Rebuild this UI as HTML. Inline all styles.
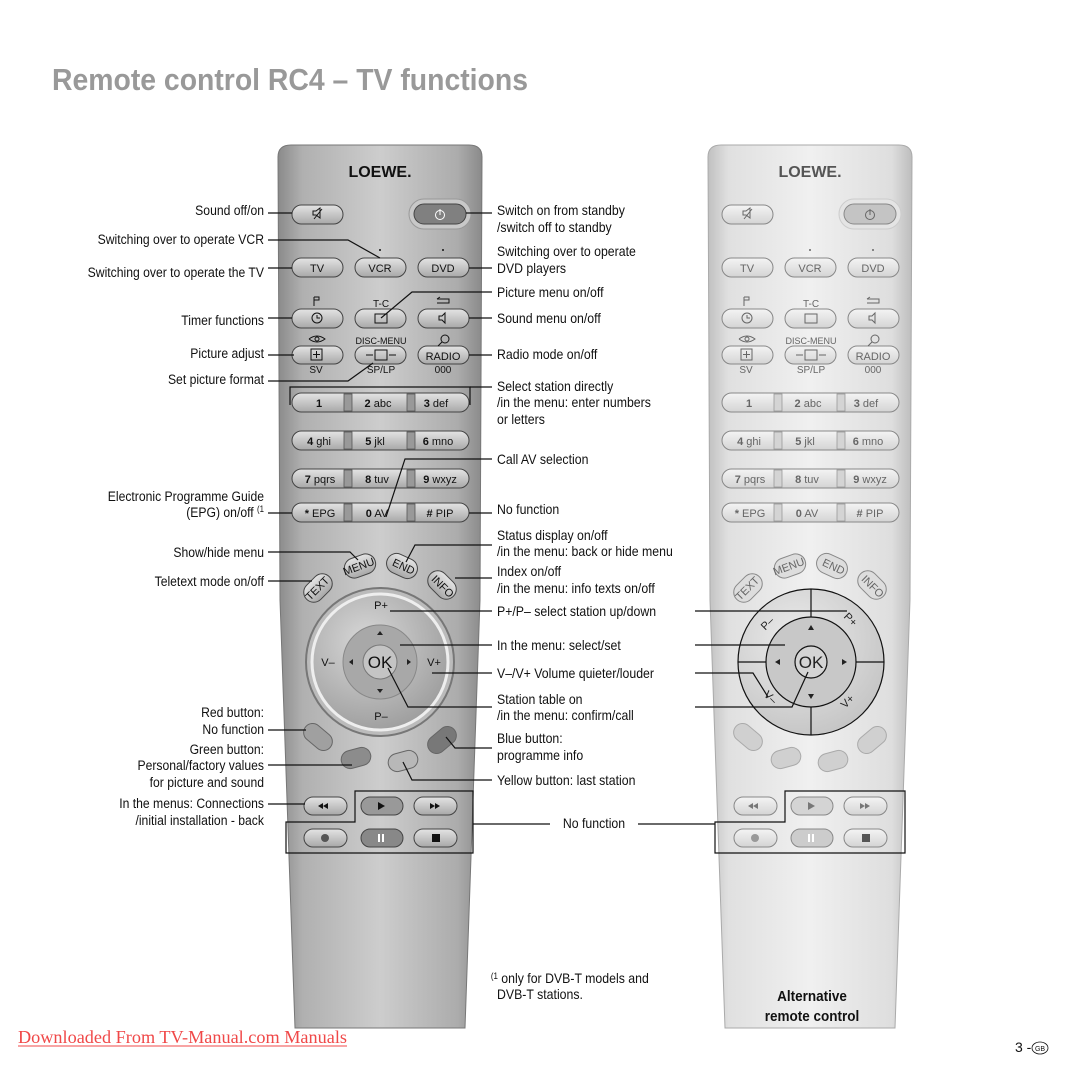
<!DOCTYPE html>
<html><head><meta charset="utf-8"><style>
html,body{margin:0;padding:0;background:#fff;}
svg{display:block;}
.l{font-family:"Liberation Sans Narrow","Liberation Sans",sans-serif;font-size:14px;fill:#111;}
.bt{font-family:"Liberation Sans",sans-serif;font-size:11px;text-anchor:middle;}
.ln{stroke:#111;stroke-width:1.2;fill:none;}
</style></head><body>
<svg width="1080" height="1080" viewBox="0 0 1080 1080" xmlns="http://www.w3.org/2000/svg">
<defs>
<linearGradient id="bodyA" x1="0" x2="1" y1="0" y2="0">
<stop offset="0" stop-color="#8a8a8a"/><stop offset="0.12" stop-color="#b0b0b0"/><stop offset="0.5" stop-color="#cdcdcd"/><stop offset="0.88" stop-color="#acacac"/><stop offset="1" stop-color="#8a8a8a"/></linearGradient>
<linearGradient id="bodyB" x1="0" x2="1" y1="0" y2="0">
<stop offset="0" stop-color="#c0c0c0"/><stop offset="0.1" stop-color="#e0e0e0"/><stop offset="0.5" stop-color="#f0f0f0"/><stop offset="0.9" stop-color="#dedede"/><stop offset="1" stop-color="#bdbdbd"/></linearGradient>
<linearGradient id="btA" x1="0" x2="0" y1="0" y2="1"><stop offset="0" stop-color="#e4e4e4"/><stop offset="1" stop-color="#a8a8a8"/></linearGradient>
<linearGradient id="btB" x1="0" x2="0" y1="0" y2="1"><stop offset="0" stop-color="#f4f4f4"/><stop offset="1" stop-color="#d4d4d4"/></linearGradient>
<radialGradient id="navA" cx="0.4" cy="0.35" r="0.7"><stop offset="0" stop-color="#d8d8d8"/><stop offset="1" stop-color="#9c9c9c"/></radialGradient>
<radialGradient id="navB" cx="0.4" cy="0.35" r="0.7"><stop offset="0" stop-color="#ececec"/><stop offset="1" stop-color="#c4c4c4"/></radialGradient>
</defs>

<text x="52" y="90" font-family="'Liberation Sans Narrow','Liberation Sans',sans-serif" font-weight="bold" font-size="31" fill="#999" textLength="476" lengthAdjust="spacingAndGlyphs">Remote control RC4 – TV functions</text>

<!-- LEFT REMOTE -->
<path d="M278 157 Q278 145 291 145 L469 145 Q482 145 482 157 L480 600 L465 1028 L295 1028 L280 600 Z" fill="url(#bodyA)" stroke="#777" stroke-width="1"/>
<g fill="url(#btA)" stroke="#444" stroke-width="1">
<text x="380" y="177" font-family="'Liberation Sans Narrow','Liberation Sans',sans-serif" font-weight="bold" font-size="16" fill="#111" stroke="none" text-anchor="middle">LOEWE.</text>
<rect x="292" y="205" width="51" height="19" rx="9.5"/>
<rect x="409" y="199" width="62" height="30" rx="15" fill="#c8c8c8" stroke="#999"/>
<rect x="414" y="204" width="52" height="20" rx="10" fill="#808080"/>
<rect x="292" y="258" width="51" height="19" rx="9.5"/>
<rect x="355" y="258" width="51" height="19" rx="9.5"/>
<rect x="418" y="258" width="51" height="19" rx="9.5"/>
<rect x="292" y="309" width="51" height="19" rx="9.5"/>
<rect x="355" y="309" width="51" height="19" rx="9.5"/>
<rect x="418" y="309" width="51" height="19" rx="9.5"/>
<rect x="292" y="346" width="51" height="18" rx="9"/>
<rect x="355" y="346" width="51" height="18" rx="9"/>
<rect x="418" y="346" width="51" height="18" rx="9"/>
<rect x="292" y="393" width="177" height="19" rx="9.5"/>
<rect x="292" y="431" width="177" height="19" rx="9.5"/>
<rect x="292" y="469" width="177" height="19" rx="9.5"/>
<rect x="292" y="503" width="177" height="19" rx="9.5"/>
</g>
<g fill="#999" stroke="#555" stroke-width="0.8">
<rect x="344" y="394" width="8" height="17"/><rect x="407" y="394" width="8" height="17"/>
<rect x="344" y="432" width="8" height="17"/><rect x="407" y="432" width="8" height="17"/>
<rect x="344" y="470" width="8" height="17"/><rect x="407" y="470" width="8" height="17"/>
<rect x="344" y="504" width="8" height="17"/><rect x="407" y="504" width="8" height="17"/>
</g>
<g class="bt" fill="#111">
<text x="317" y="272">TV</text><text x="380" y="272">VCR</text><text x="443" y="272">DVD</text>
<text x="381" y="307" font-size="10">T-C</text>
<text x="381" y="344" font-size="9">DISC-MENU</text>
<text x="443" y="360">RADIO</text>
<text x="316" y="373" font-size="10">SV</text><text x="381" y="373" font-size="10">SP/LP</text><text x="443" y="373" font-size="10">000</text>
<text x="319" y="407" font-weight="bold">1</text><text x="378" y="407"><tspan font-weight="bold">2</tspan> abc</text><text x="436" y="407"><tspan font-weight="bold">3</tspan> def</text>
<text x="319" y="445"><tspan font-weight="bold">4</tspan> ghi</text><text x="375" y="445"><tspan font-weight="bold">5</tspan> jkl</text><text x="438" y="445"><tspan font-weight="bold">6</tspan> mno</text>
<text x="320" y="483"><tspan font-weight="bold">7</tspan> pqrs</text><text x="377" y="483"><tspan font-weight="bold">8</tspan> tuv</text><text x="440" y="483"><tspan font-weight="bold">9</tspan> wxyz</text>
<text x="320" y="517"><tspan font-weight="bold">*</tspan> EPG</text><text x="377" y="517"><tspan font-weight="bold">0</tspan> AV</text><text x="440" y="517"><tspan font-weight="bold">#</tspan> PIP</text>
</g>
<g stroke="#111" stroke-width="1" fill="none">
<path d="M313 211 h3 l4 -3 v10 l-4 -3 h-3 z M322 209 l-8 10"/>
<circle cx="440" cy="215" r="4.5" stroke="#fff"/><path d="M440 209 v6" stroke="#fff"/>
<path d="M314 297 v9 M314 297 h5 v3 h-5"/>
<path d="M437 299 h12 v4 h-12 M437 299 l3 -2"/>
<circle cx="317" cy="318" r="5"/><path d="M317 315 v3 h3"/>
<rect x="375" y="314" width="12" height="9"/>
<path d="M439 316 h3 l3 -3 v10 l-3 -3 h-3 z"/>
<path d="M309 339 q8 -6 16 0 q-8 6 -16 0"/><circle cx="317" cy="339" r="2"/>
<rect x="311" y="349" width="11" height="11"/><path d="M316.5 351 v7 M313 354.5 h7"/>
<path d="M366 355 h7 M389 355 h7"/><rect x="375" y="350" width="12" height="10"/>
<circle cx="445" cy="339" r="4"/><path d="M442 342 l-4 4"/>
</g>
<circle cx="380" cy="250" r="1" fill="#111"/><circle cx="443" cy="250" r="1" fill="#111"/>

<g fill="url(#btA)" stroke="#444" stroke-width="1">
<rect x="-16" y="-10" width="32" height="20" rx="10" transform="translate(360,566) rotate(-20)"/>
<rect x="-16" y="-10" width="32" height="20" rx="10" transform="translate(402,566) rotate(25)"/>
<rect x="-16" y="-10" width="32" height="20" rx="10" transform="translate(318,588) rotate(-45)"/>
<rect x="-16" y="-10" width="32" height="20" rx="10" transform="translate(442,585) rotate(45)"/>
</g>
<g class="bt" font-size="10" fill="#111">
<text transform="translate(360,570) rotate(-20)">MENU</text>
<text transform="translate(402,570) rotate(25)">END</text>
<text transform="translate(320,591) rotate(-45)">TEXT</text>
<text transform="translate(440,589) rotate(45)">INFO</text>
</g>
<circle cx="380" cy="662" r="74" fill="#bbb" stroke="#777" stroke-width="2"/>
<circle cx="380" cy="662" r="68" fill="url(#navA)" stroke="#eee" stroke-width="3"/>
<circle cx="380" cy="662" r="37" fill="#a8a8a8" stroke="#888"/>
<circle cx="380" cy="662" r="17" fill="#c4c4c4" stroke="#777"/>
<g class="bt" fill="#111">
<text x="380" y="668" font-size="17">OK</text>
<text x="381" y="609">P+</text><text x="381" y="720">P–</text>
<text x="328" y="666">V–</text><text x="434" y="666">V+</text>
</g>
<g fill="#222"><path d="M377 635 l3 -4 l3 4z M377 689 l3 4 l3 -4z M353 659 l-4 3 l4 3z M407 659 l4 3 l-4 3z"/></g>
<g fill="#a0a0a0" stroke="#666">
<rect x="-16" y="-9" width="32" height="18" rx="9" transform="translate(318,737) rotate(40)"/>
<rect x="-15" y="-9" width="30" height="18" rx="9" fill="#8c8c8c" transform="translate(356,758) rotate(-15)"/>
<rect x="-15" y="-9" width="30" height="18" rx="9" fill="#b8b8b8" transform="translate(403,761) rotate(-15)"/>
<rect x="-16" y="-9" width="32" height="18" rx="9" fill="#787878" transform="translate(442,740) rotate(-40)"/>
</g>
<g fill="url(#btA)" stroke="#444">
<rect x="304" y="797" width="43" height="18" rx="9"/>
<rect x="361" y="797" width="42" height="18" rx="9" fill="#999"/>
<rect x="414" y="797" width="43" height="18" rx="9"/>
<rect x="304" y="829" width="43" height="18" rx="9"/>
<rect x="361" y="829" width="42" height="18" rx="9" fill="#888"/>
<rect x="414" y="829" width="43" height="18" rx="9"/>
</g>
<g fill="#111"><path d="M318 806 l5 -3 v6z M323 806 l5 -3 v6z M378 802 l7 4 l-7 4z M430 803 v6 l5 -3z M435 803 v6 l5 -3z"/>
<circle cx="325" cy="838" r="4" fill="#555"/><rect x="378" y="834" width="2" height="8" fill="#fff"/><rect x="382" y="834" width="2" height="8" fill="#fff"/><rect x="432" y="834" width="8" height="8"/></g>

<!-- RIGHT REMOTE -->
<path d="M708 157 Q708 145 721 145 L899 145 Q912 145 912 157 L910 600 L895 1028 L725 1028 L710 600 Z" fill="url(#bodyB)" stroke="#aaa" stroke-width="1"/>
<g transform="translate(430,0)">
<g fill="url(#btB)" stroke="#888" stroke-width="1">
<text x="380" y="177" font-family="'Liberation Sans Narrow','Liberation Sans',sans-serif" font-weight="bold" font-size="16" fill="#555" stroke="none" text-anchor="middle">LOEWE.</text>
<rect x="292" y="205" width="51" height="19" rx="9.5"/>
<rect x="409" y="199" width="62" height="30" rx="15" fill="#e4e4e4" stroke="#ccc"/>
<rect x="414" y="204" width="52" height="20" rx="10" fill="#c4c4c4"/>
<rect x="292" y="258" width="51" height="19" rx="9.5"/>
<rect x="355" y="258" width="51" height="19" rx="9.5"/>
<rect x="418" y="258" width="51" height="19" rx="9.5"/>
<rect x="292" y="309" width="51" height="19" rx="9.5"/>
<rect x="355" y="309" width="51" height="19" rx="9.5"/>
<rect x="418" y="309" width="51" height="19" rx="9.5"/>
<rect x="292" y="346" width="51" height="18" rx="9"/>
<rect x="355" y="346" width="51" height="18" rx="9"/>
<rect x="418" y="346" width="51" height="18" rx="9"/>
<rect x="292" y="393" width="177" height="19" rx="9.5"/>
<rect x="292" y="431" width="177" height="19" rx="9.5"/>
<rect x="292" y="469" width="177" height="19" rx="9.5"/>
<rect x="292" y="503" width="177" height="19" rx="9.5"/>
</g>
<g fill="#d4d4d4" stroke="#999" stroke-width="0.8">
<rect x="344" y="394" width="8" height="17"/><rect x="407" y="394" width="8" height="17"/>
<rect x="344" y="432" width="8" height="17"/><rect x="407" y="432" width="8" height="17"/>
<rect x="344" y="470" width="8" height="17"/><rect x="407" y="470" width="8" height="17"/>
<rect x="344" y="504" width="8" height="17"/><rect x="407" y="504" width="8" height="17"/>
</g>
<g class="bt" fill="#666">
<text x="317" y="272">TV</text><text x="380" y="272">VCR</text><text x="443" y="272">DVD</text>
<text x="381" y="307" font-size="10">T-C</text>
<text x="381" y="344" font-size="9">DISC-MENU</text>
<text x="443" y="360">RADIO</text>
<text x="316" y="373" font-size="10">SV</text><text x="381" y="373" font-size="10">SP/LP</text><text x="443" y="373" font-size="10">000</text>
<text x="319" y="407" font-weight="bold">1</text><text x="378" y="407"><tspan font-weight="bold">2</tspan> abc</text><text x="436" y="407"><tspan font-weight="bold">3</tspan> def</text>
<text x="319" y="445"><tspan font-weight="bold">4</tspan> ghi</text><text x="375" y="445"><tspan font-weight="bold">5</tspan> jkl</text><text x="438" y="445"><tspan font-weight="bold">6</tspan> mno</text>
<text x="320" y="483"><tspan font-weight="bold">7</tspan> pqrs</text><text x="377" y="483"><tspan font-weight="bold">8</tspan> tuv</text><text x="440" y="483"><tspan font-weight="bold">9</tspan> wxyz</text>
<text x="320" y="517"><tspan font-weight="bold">*</tspan> EPG</text><text x="377" y="517"><tspan font-weight="bold">0</tspan> AV</text><text x="440" y="517"><tspan font-weight="bold">#</tspan> PIP</text>
</g>
<g stroke="#666" stroke-width="1" fill="none">
<path d="M313 211 h3 l4 -3 v10 l-4 -3 h-3 z M322 209 l-8 10"/>
<circle cx="440" cy="215" r="4.5"/><path d="M440 209 v6"/>
<path d="M314 297 v9 M314 297 h5 v3 h-5"/>
<path d="M437 299 h12 v4 h-12 M437 299 l3 -2"/>
<circle cx="317" cy="318" r="5"/><path d="M317 315 v3 h3"/>
<rect x="375" y="314" width="12" height="9"/>
<path d="M439 316 h3 l3 -3 v10 l-3 -3 h-3 z"/>
<path d="M309 339 q8 -6 16 0 q-8 6 -16 0"/><circle cx="317" cy="339" r="2"/>
<rect x="311" y="349" width="11" height="11"/><path d="M316.5 351 v7 M313 354.5 h7"/>
<path d="M366 355 h7 M389 355 h7"/><rect x="375" y="350" width="12" height="10"/>
<circle cx="445" cy="339" r="4"/><path d="M442 342 l-4 4"/>
</g>
<circle cx="380" cy="250" r="1" fill="#666"/><circle cx="443" cy="250" r="1" fill="#666"/>
<g fill="#ddd" stroke="#888" stroke-width="1">
<rect x="-16" y="-10" width="32" height="20" rx="10" transform="translate(360,566) rotate(-20)"/>
<rect x="-16" y="-10" width="32" height="20" rx="10" transform="translate(402,566) rotate(25)"/>
<rect x="-16" y="-10" width="32" height="20" rx="10" transform="translate(318,588) rotate(-45)"/>
<rect x="-16" y="-10" width="32" height="20" rx="10" transform="translate(442,585) rotate(45)"/>
</g>
<g class="bt" font-size="10" fill="#666">
<text transform="translate(360,570) rotate(-20)">MENU</text>
<text transform="translate(402,570) rotate(25)">END</text>
<text transform="translate(320,591) rotate(-45)">TEXT</text>
<text transform="translate(440,589) rotate(45)">INFO</text>
</g>
<g fill="#d0d0d0" stroke="#aaa">
<rect x="-16" y="-9" width="32" height="18" rx="9" transform="translate(318,737) rotate(40)"/>
<rect x="-15" y="-9" width="30" height="18" rx="9" transform="translate(356,758) rotate(-15)"/>
<rect x="-15" y="-9" width="30" height="18" rx="9" transform="translate(403,761) rotate(-15)"/>
<rect x="-16" y="-9" width="32" height="18" rx="9" transform="translate(442,740) rotate(-40)"/>
</g>
<g fill="url(#btB)" stroke="#888">
<rect x="304" y="797" width="43" height="18" rx="9"/>
<rect x="361" y="797" width="42" height="18" rx="9" fill="#d4d4d4"/>
<rect x="414" y="797" width="43" height="18" rx="9"/>
<rect x="304" y="829" width="43" height="18" rx="9"/>
<rect x="361" y="829" width="42" height="18" rx="9" fill="#ccc"/>
<rect x="414" y="829" width="43" height="18" rx="9"/>
</g>
<g fill="#777"><path d="M318 806 l5 -3 v6z M323 806 l5 -3 v6z M378 802 l7 4 l-7 4z M430 803 v6 l5 -3z M435 803 v6 l5 -3z"/>
<circle cx="325" cy="838" r="4" fill="#999"/><rect x="378" y="834" width="2" height="8" fill="#fff"/><rect x="382" y="834" width="2" height="8" fill="#fff"/><rect x="432" y="834" width="8" height="8" fill="#555"/></g>
</g>
<circle cx="811" cy="662" r="73" fill="url(#navB)" stroke="#111" stroke-width="1.2"/>
<circle cx="811" cy="662" r="45" fill="#c8c8c8" stroke="#111" stroke-width="1.2"/>
<path d="M811 589 v28 M811 707 v28 M738 662 h28 M856 662 h28" stroke="#111" stroke-width="1.2"/>
<circle cx="811" cy="662" r="16" fill="#d4d4d4" stroke="#111" stroke-width="1.2"/>
<g class="bt" fill="#222">
<text x="811" y="668" font-size="17">OK</text>
<text transform="translate(770,626) rotate(-45)">P–</text>
<text transform="translate(848,622) rotate(45)">P+</text>
<text transform="translate(768,700) rotate(45)">V–</text>
<text transform="translate(850,704) rotate(-45)">V+</text>
</g>
<g fill="#222"><path d="M808 630 l3 -5 l3 5z M808 694 l3 5 l3 -5z M780 659 l-5 3 l5 3z M842 659 l5 3 l-5 3z"/></g>

<path class="ln" d="M355 791 H473 V853 H286 V822 H355 Z"/>
<path class="ln" d="M715 822 H785 V791 H905 V853 H715 Z"/>
<path class="ln" d="M290 405 V387 H470 V405"/>

<g class="ln">
<path d="M268 213 H292"/>
<path d="M268 240 H348 L380 258"/>
<path d="M268 268 H292"/>
<path d="M268 318 H292"/>
<path d="M268 355 H294"/>
<path d="M268 381 H348 L373 363"/>
<path d="M268 513 H292"/>
<path d="M268 552 H350 L358 560"/>
<path d="M268 581 H312"/>
<path d="M268 730 H306"/>
<path d="M268 765 H352"/>
<path d="M268 804 H305"/>
<path d="M466 213 H492"/>
<path d="M469 268 H492"/>
<path d="M492 292 H412 L381 318"/>
<path d="M469 318 H492"/>
<path d="M469 355 H492"/>
<path d="M470 387 H492"/>
<path d="M492 459 H405 L386 517"/>
<path d="M469 513 H492"/>
<path d="M492 545 H415 L406 562"/>
<path d="M492 578 H455"/>
<path d="M492 611 H390"/>
<path d="M492 645 H400"/>
<path d="M492 673 H432"/>
<path d="M492 707 H408 L388 668"/>
<path d="M492 748 H455 L446 737"/>
<path d="M492 780 H412 L403 762"/>
<path d="M473 824 H550"/>
<path d="M638 824 H715"/>
<path d="M695 611 H847"/>
<path d="M695 645 H785"/>
<path d="M695 673 H753 L768 697"/>
<path d="M695 707 H792 L808 672"/>
</g>

<g class="l" text-anchor="end" transform="translate(264,0) scale(0.87,1) translate(-264,0)">
<text x="264" y="215">Sound off/on</text>
<text x="264" y="244">Switching over to operate VCR</text>
<text x="264" y="277">Switching over to operate the TV</text>
<text x="264" y="325">Timer functions</text>
<text x="264" y="358">Picture adjust</text>
<text x="264" y="384">Set picture format</text>
<text x="264" y="501">Electronic Programme Guide</text>
<text x="264" y="517">(EPG) on/off <tspan font-size="9" dy="-5">(1</tspan></text>
<text x="264" y="557">Show/hide menu</text>
<text x="264" y="586">Teletext mode on/off</text>
<text x="264" y="717">Red button:</text>
<text x="264" y="734">No function</text>
<text x="264" y="754">Green button:</text>
<text x="264" y="770">Personal/factory values</text>
<text x="264" y="787">for picture and sound</text>
<text x="264" y="808">In the menus: Connections</text>
<text x="264" y="825">/initial installation - back</text>
</g>
<g class="l" transform="translate(497,0) scale(0.88,1) translate(-497,0)">
<text x="497" y="215">Switch on from standby</text>
<text x="497" y="232">/switch off to standby</text>
<text x="497" y="256">Switching over to operate</text>
<text x="497" y="273">DVD players</text>
<text x="497" y="297">Picture menu on/off</text>
<text x="497" y="323">Sound menu on/off</text>
<text x="497" y="359">Radio mode on/off</text>
<text x="497" y="391">Select station directly</text>
<text x="497" y="407">/in the menu: enter numbers</text>
<text x="497" y="424">or letters</text>
<text x="497" y="464">Call AV selection</text>
<text x="497" y="514">No function</text>
<text x="497" y="540">Status display on/off</text>
<text x="497" y="556">/in the menu: back or hide menu</text>
<text x="497" y="576">Index on/off</text>
<text x="497" y="593">/in the menu: info texts on/off</text>
<text x="497" y="616">P+/P– select station up/down</text>
<text x="497" y="650">In the menu: select/set</text>
<text x="497" y="678">V–/V+ Volume quieter/louder</text>
<text x="497" y="704">Station table on</text>
<text x="497" y="720">/in the menu: confirm/call</text>
<text x="497" y="743">Blue button:</text>
<text x="497" y="760">programme info</text>
<text x="497" y="785">Yellow button: last station</text>
<text x="490" y="983"><tspan font-size="9" dy="-4">(1</tspan><tspan dy="4"> only for DVB-T models and</tspan></text>
<text x="497" y="999">DVB-T stations.</text>
</g>
<g class="l" text-anchor="middle">
<text x="594" y="828" transform="translate(594,0) scale(0.88,1) translate(-594,0)">No function</text>
<text x="812" y="1001" font-weight="bold" font-size="15" transform="translate(812,0) scale(0.9,1) translate(-812,0)">Alternative</text>
<text x="812" y="1021" font-weight="bold" font-size="15" transform="translate(812,0) scale(0.9,1) translate(-812,0)">remote control</text>
</g>
<text x="1015" y="1052" class="l" font-size="11">3 -</text>
<ellipse cx="1040" cy="1048" rx="8" ry="6" fill="none" stroke="#111" stroke-width="0.8"/>
<text x="1040" y="1051" font-family="'Liberation Sans',sans-serif" font-size="7" text-anchor="middle" fill="#111">GB</text>
<text x="18" y="1043" font-family="'Liberation Serif',serif" font-size="18" fill="#f04848" textLength="329" lengthAdjust="spacingAndGlyphs">Downloaded From TV-Manual.com Manuals</text>
<line x1="18" y1="1046" x2="347" y2="1046" stroke="#f04848" stroke-width="1"/>
</svg>
</body></html>
